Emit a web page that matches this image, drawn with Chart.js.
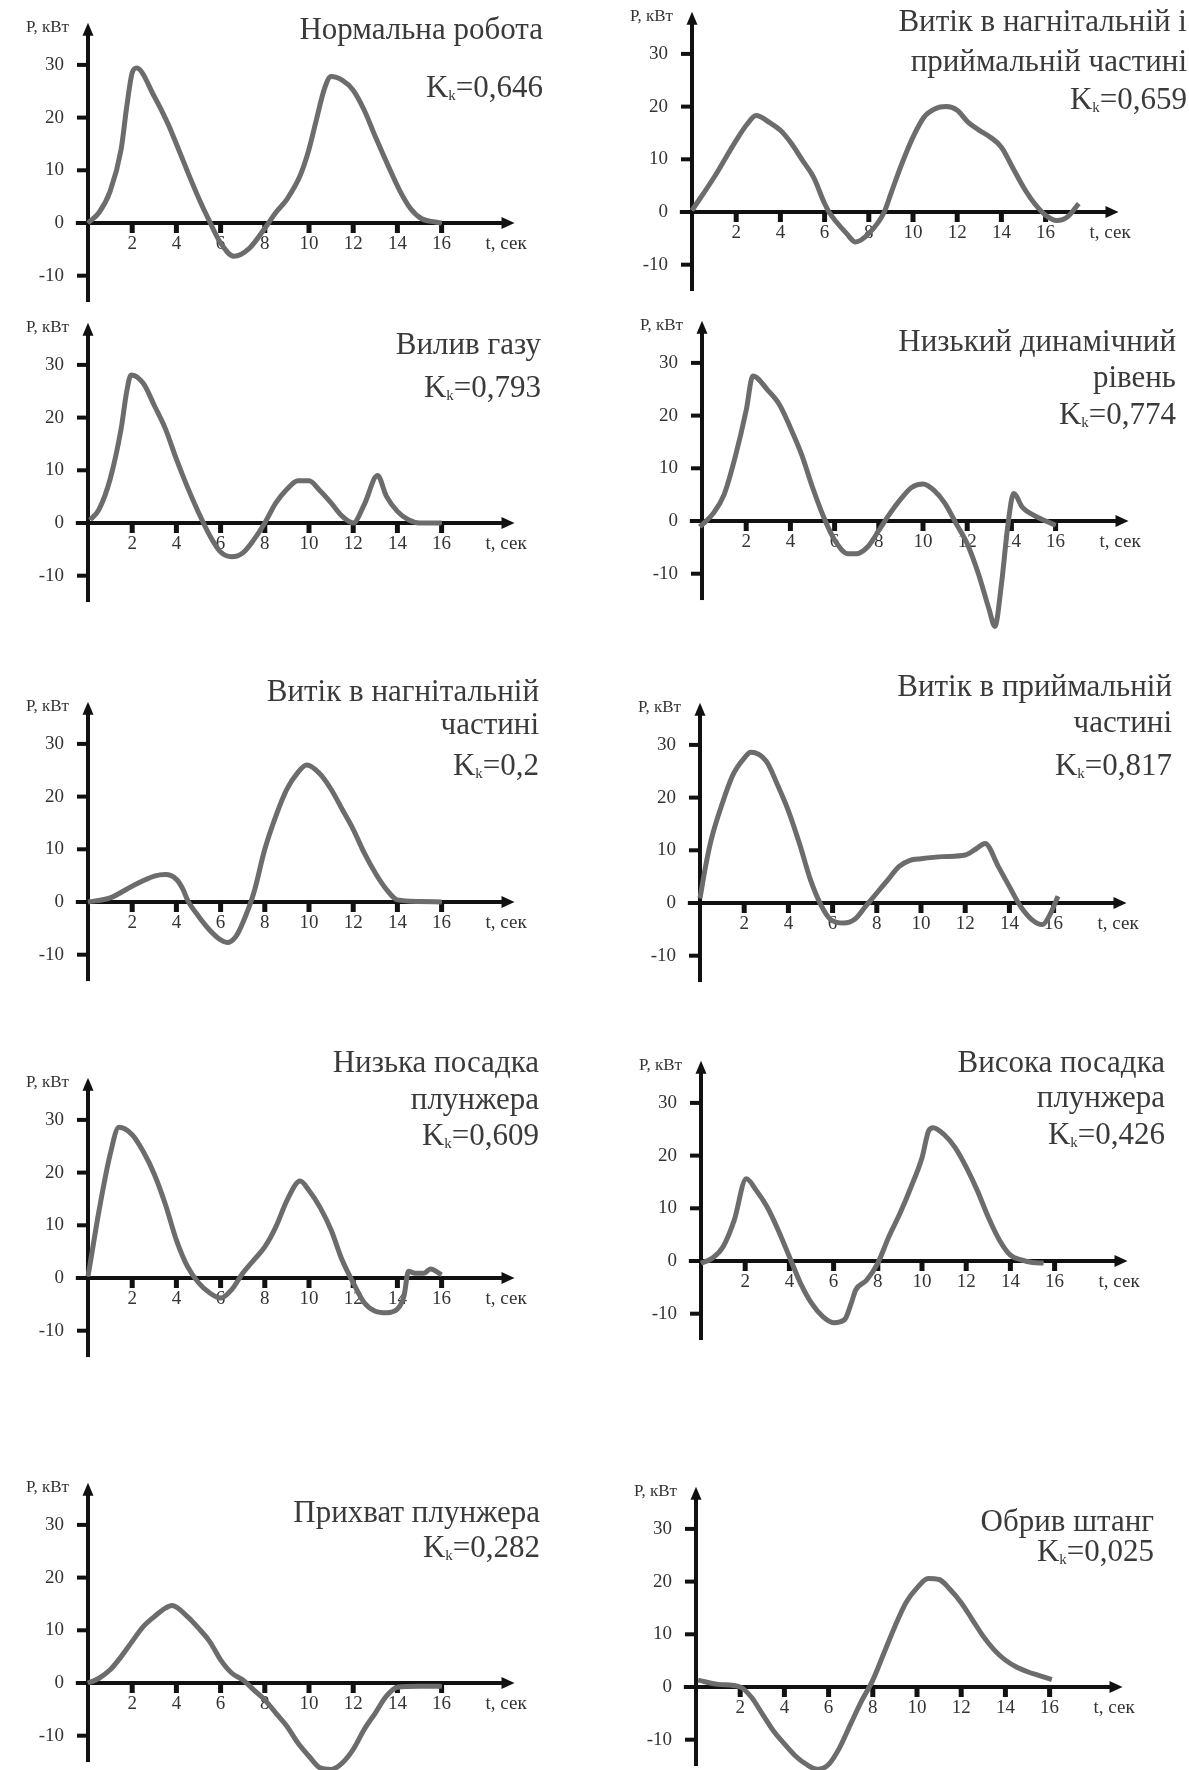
<!DOCTYPE html>
<html lang="uk">
<head>
<meta charset="utf-8">
<title>Ватметрограми</title>
<script src="https://cdn.jsdelivr.net/npm/chart.js@4.4.1/dist/chart.umd.min.js"></script>
<style>
  html, body { margin: 0; padding: 0; background: #fff; }
  body { position: relative; width: 1189px; height: 1770px; overflow: hidden;
         font-family: "Liberation Serif", "DejaVu Serif", serif; }
  canvas { position: absolute; }
  .ttl { position: absolute; color: #3a3a3a; font-size: 31px; line-height: 31px;
         white-space: nowrap; text-align: right; z-index: 2; }
  .ttl sub { font-size: 15px; vertical-align: -3px; }
</style>
</head>
<body>
<script>
// tick values shared by every panel
const xTicks = [2, 4, 6, 8, 10, 12, 14, 16];
const yTicks = [-10, 0, 10, 20, 30];

// t, сек / P, кВт
const tNormal = [0, 0.5, 1, 1.5, 1.75, 2, 2.2, 3, 3.6, 4, 4.5, 5, 5.5, 6, 6.6, 7.3, 8, 8.5, 9, 9.6, 10, 10.3, 10.7, 11, 11.5, 12, 12.5, 13, 13.6, 14.1, 14.6, 15.1, 15.7, 16];
const pNormal = [0, 2, 6, 14, 22, 28.5, 29.4, 24, 19, 15, 9.8, 4.8, 0.3, -3.8, -6.3, -4.8, -1, 2, 4.5, 9, 14, 19, 25.5, 27.8, 27.1, 25.2, 21.4, 16.4, 10.7, 6.2, 2.7, 0.8, 0.2, 0];

const tLeakBoth = [0, 1, 2, 2.5, 2.9, 3.5, 4, 4.5, 5, 5.5, 6, 6.2, 7, 7.4, 8, 8.7, 9, 9.5, 10, 10.5, 11, 11.5, 12, 12.5, 13, 13.5, 14, 14.5, 15, 15.5, 16, 16.5, 17, 17.5];
const pLeakBoth = [0.3, 6.6, 13.6, 16.7, 18.3, 17, 15.5, 13, 9.8, 6.6, 1.6, 0, -4.1, -5.7, -4.1, 0, 3.5, 9.2, 14.2, 18, 19.6, 20, 19.3, 17, 15.5, 14.2, 12.3, 8.5, 4.7, 1.6, -0.6, -1.6, -0.9, 1.6];

const tGas = [0.1, 0.5, 1, 1.5, 1.75, 1.95, 2.5, 3, 3.5, 4, 4.5, 5, 5.5, 6, 6.5, 7, 7.5, 8, 8.5, 9, 9.5, 10, 10.5, 11, 11.5, 12, 12.5, 13.1, 13.5, 14, 14.5, 15, 16];
const pGas = [0.6, 2.6, 8.3, 17.9, 24.9, 28.1, 26.5, 22.3, 17.9, 12.1, 6.8, 2, -2.3, -5.5, -6.4, -5.7, -3.2, 0, 3.8, 6.4, 8, 8, 6.1, 3.8, 1.3, 0, 3.5, 9, 5.1, 2.2, 0.6, 0, 0];

const tLowLevel = [-0.1, 0.5, 1, 1.5, 2, 2.3, 3, 3.5, 4, 4.5, 5, 5.5, 6, 6.6, 7, 7.5, 8, 8.5, 9, 9.5, 10, 10.5, 11, 11.5, 12, 12.5, 13, 13.25, 13.55, 13.85, 14.1, 14.5, 15, 15.5, 16];
const pLowLevel = [-1.1, 1.4, 5, 12.1, 21, 27.5, 24.7, 22.1, 17.7, 12.7, 6.4, 0.8, -3.6, -6.2, -6.2, -4.9, -1.8, 1.4, 4.2, 6.4, 7, 5.8, 3.3, -0.5, -4.3, -9.9, -16.9, -20, -12, -0.5, 5.2, 2.6, 1.1, 0.1, -0.8];

const tLeakOut = [0, 1, 2, 3, 3.5, 4, 4.3, 4.5, 5, 5.5, 6, 6.3, 6.7, 7, 7.5, 8, 8.5, 9, 9.5, 9.9, 10.5, 11, 11.5, 12, 12.5, 13, 13.5, 14, 15, 16];
const pLeakOut = [0, 0.8, 3, 4.9, 5.2, 4.3, 2.4, 0.4, -2.7, -5.3, -7.2, -7.7, -6.5, -4, 1.7, 10, 16.3, 21.4, 24.6, 26, 24.3, 21.4, 17.6, 13.8, 9.3, 5.5, 2.4, 0.4, 0.1, 0];

const tLeakIn = [0, 0.25, 0.5, 1, 1.5, 2, 2.3, 3, 3.5, 4, 4.5, 5, 5.5, 5.9, 6.5, 7, 7.5, 8, 8.5, 9, 9.5, 10, 11, 12, 12.5, 12.9, 13.5, 14, 14.5, 15, 15.5, 15.8, 16.2];
const pLeakIn = [0.9, 6.9, 11.9, 18.8, 24.4, 27.5, 28.6, 26.9, 22.5, 17.5, 11.3, 4.4, -0.6, -3.1, -3.8, -3.1, -0.6, 1.9, 4.4, 6.9, 8.1, 8.4, 8.8, 9.1, 10.3, 11.3, 6.9, 3.1, -0.6, -3.1, -4.1, -2.5, 1.3];

const tLowSeat = [0, 0.25, 0.5, 1, 1.4, 2, 2.5, 3, 3.5, 4, 4.5, 5, 5.5, 6, 6.5, 7, 7.5, 8, 8.5, 9, 9.6, 10, 10.5, 11, 11.5, 12, 12.5, 13, 13.5, 14, 14.3, 14.5, 14.8, 15.2, 15.5, 16];
const pLowSeat = [0.3, 6.6, 12.8, 23.4, 28.6, 27.2, 24, 19.7, 14, 7.2, 2.2, -0.9, -2.8, -3.8, -2.2, 0.9, 3.4, 5.9, 9.7, 14.7, 18.4, 16.6, 13.4, 9.1, 3.4, -0.9, -4.7, -6.3, -6.6, -5.9, -3.4, 1.3, 0.9, 0.9, 1.7, 0.6];

const tHighSeat = [0, 0.5, 1, 1.5, 2.05, 2.5, 3, 3.5, 4, 4.5, 5, 5.5, 6, 6.5, 6.8, 7, 7.5, 8, 8.5, 9, 9.5, 10, 10.3, 10.5, 11, 11.5, 12, 12.5, 13, 13.5, 14, 14.5, 15, 15.5];
const pHighSeat = [-0.4, 0.5, 2.7, 7.7, 15.6, 13.4, 10.2, 5.8, 0.8, -4.2, -8, -10.5, -11.7, -11.1, -8, -5.5, -3.6, -0.4, 4.6, 9, 14, 19.6, 24.7, 25.3, 24, 21.5, 17.8, 13.4, 8.3, 4, 1.1, 0.2, -0.3, -0.4];

const tStuck = [0, 0.5, 1, 1.5, 2, 2.5, 3, 3.5, 3.8, 4.5, 5, 5.5, 6, 6.5, 7, 7.5, 8, 8.5, 9, 9.5, 10, 10.5, 11, 11.5, 12, 12.5, 13, 13.5, 14, 15, 16];
const pStuck = [0, 0.9, 2.5, 5, 7.9, 10.7, 12.6, 14.2, 14.7, 12.6, 10.4, 7.9, 4.4, 1.9, 0.6, -1.3, -3.2, -5.7, -8.2, -11.4, -13.9, -16.1, -16.4, -15.2, -12.6, -8.8, -5.7, -2.5, -0.8, -0.6, -0.6];

const tBreak = [0.1, 1, 2, 2.5, 3, 3.5, 4, 4.5, 5, 5.5, 6, 6.5, 7, 7.5, 8, 8.5, 9, 9.5, 10, 10.5, 11, 11.5, 12, 12.5, 13, 13.5, 14, 14.5, 15, 15.5, 16.1];
const pBreak = [1.3, 0.5, 0, -1.9, -5.1, -8.3, -10.8, -13.1, -14.7, -15.6, -14.7, -11.5, -7, -2.6, 1.3, 6.4, 11.5, 16, 18.8, 20.6, 20.4, 18.5, 16, 12.8, 9.6, 7, 5.1, 3.8, 2.9, 2.2, 1.4];

const titles = [
    ['Нормальна робота'],
    ['Витік в нагнітальній і', 'приймальній частині'],
    ['Вилив газу'],
    ['Низький динамічний', 'рівень'],
    ['Витік в нагнітальній', 'частині'],
    ['Витік в приймальній', 'частині'],
    ['Низька посадка', 'плунжера'],
    ['Висока посадка', 'плунжера'],
    ['Прихват плунжера'],
    ['Обрив штанг']
];
const kkValues = ['0,646', '0,659', '0,793', '0,774', '0,2', '0,817', '0,609', '0,426', '0,282', '0,025'];

const seriesT = [tNormal, tLeakBoth, tGas, tLowLevel, tLeakOut, tLeakIn, tLowSeat, tHighSeat, tStuck, tBreak];
const seriesP = [pNormal, pLeakBoth, pGas, pLowLevel, pLeakOut, pLeakIn, pLowSeat, pHighSeat, pStuck, pBreak];

// where each panel sits on the page: origin of the axes, right edge and rows of its caption
const panels = [
    { ox: 88,  oy: 223,  right: 543,  lines: [30],         kkY: 88 },
    { ox: 692, oy: 212,  right: 1187, lines: [22, 62],     kkY: 100 },
    { ox: 88,  oy: 523,  right: 541,  lines: [345],        kkY: 388 },
    { ox: 702, oy: 521,  right: 1176, lines: [342, 378],   kkY: 415 },
    { ox: 88,  oy: 902,  right: 539,  lines: [692, 725],   kkY: 766 },
    { ox: 700, oy: 903,  right: 1172, lines: [687, 723],   kkY: 766 },
    { ox: 88,  oy: 1278, right: 539,  lines: [1063, 1100], kkY: 1136 },
    { ox: 701, oy: 1261, right: 1165, lines: [1063, 1098], kkY: 1135 },
    { ox: 88,  oy: 1683, right: 540,  lines: [1513],       kkY: 1548 },
    { ox: 696, oy: 1687, right: 1154, lines: [1522],       kkY: 1552 }
];

const SX = 22.1;   // px per second
const SY = 5.27;   // px per kW
const PAD_L = 88, PAD_T = 225, W = 560, H = 345;

// axes with arrows, tick dashes and labels
const axesPlugin = {
    id: 'arrowAxes',
    beforeDatasetsDraw(chart) {
        const { ctx, scales: { x, y } } = chart;
        const x0 = x.getPixelForValue(0);
        const y0 = y.getPixelForValue(0);
        const xa = x.getPixelForValue(-0.55);
        const xb = x.getPixelForValue(19.3);
        const ya = y.getPixelForValue(-15);
        const yb = y.getPixelForValue(38);
        ctx.save();
        ctx.fillStyle = '#111';
        ctx.fillRect(xa, y0 - 2, xb - 10 - xa, 4);
        ctx.beginPath();
        ctx.moveTo(xb, y0);
        ctx.lineTo(xb - 13, y0 - 6);
        ctx.lineTo(xb - 13, y0 + 6);
        ctx.closePath();
        ctx.fill();

        ctx.fillRect(x0 - 2, yb + 10, 4, ya - yb - 10);
        ctx.beginPath();
        ctx.moveTo(x0, yb);
        ctx.lineTo(x0 - 5.5, yb + 13);
        ctx.lineTo(x0 + 5.5, yb + 13);
        ctx.closePath();
        ctx.fill();

        ctx.font = '19px "Liberation Serif", serif';
        ctx.textBaseline = 'middle';
        ctx.textAlign = 'center';
        xTicks.forEach(v => {
            const px = x.getPixelForValue(v);
            ctx.fillStyle = '#111';
            ctx.fillRect(px - 2.5, y0, 5, 10);
            ctx.fillStyle = '#333';
            ctx.fillText(String(v), px, y0 + 21);
        });
        ctx.textAlign = 'right';
        yTicks.forEach(v => {
            const py = y.getPixelForValue(v);
            ctx.fillStyle = '#111';
            ctx.fillRect(x0 - 11, py - 2, 11, 4);
            ctx.fillStyle = '#333';
            ctx.fillText(String(v), x0 - 24, py);
        });
        ctx.font = '17px "Liberation Serif", serif';
        ctx.fillText('P, кВт', x0 - 19, yb + 5);
        ctx.textAlign = 'left';
        ctx.font = '19px "Liberation Serif", serif';
        ctx.fillText('t, сек', xb - 29, y0 + 21);
        ctx.restore();
    }
};

panels.forEach((p, i) => {
    const c = document.createElement('canvas');
    c.width = W;
    c.height = H;
    c.style.left = (p.ox - PAD_L) + 'px';
    c.style.top = (p.oy - PAD_T) + 'px';
    document.body.appendChild(c);

    const pts = seriesT[i].map((t, j) => ({ x: t, y: seriesP[i][j] }));
    new Chart(c, {
        type: 'line',
        data: {
            datasets: [
                { data: pts, borderColor: '#6c6c6c', borderWidth: 5, pointRadius: 0,
                  cubicInterpolationMode: 'monotone', fill: false },
                { data: pts, borderColor: '#c6c6c6', borderWidth: 2.2, pointRadius: 0,
                  cubicInterpolationMode: 'monotone', fill: false }
            ]
        },
        options: {
            responsive: false,
            animation: false,
            events: [],
            layout: { padding: 0 },
            plugins: { legend: { display: false }, tooltip: { enabled: false } },
            scales: {
                x: { type: 'linear', display: false, min: -PAD_L / SX, max: (W - PAD_L) / SX },
                y: { type: 'linear', display: false, min: -(H - PAD_T) / SY, max: PAD_T / SY }
            }
        },
        plugins: [axesPlugin]
    });

    // caption and Kk
    titles[i].forEach((line, k) => {
        const d = document.createElement('div');
        d.className = 'ttl';
        d.textContent = line;
        d.style.right = (1189 - p.right) + 'px';
        d.style.top = (p.lines[k] - 17) + 'px';
        document.body.appendChild(d);
    });
    const kd = document.createElement('div');
    kd.className = 'ttl';
    kd.innerHTML = 'K<sub>k</sub>=' + kkValues[i];
    kd.style.right = (1189 - p.right) + 'px';
    kd.style.top = (p.kkY - 17) + 'px';
    document.body.appendChild(kd);
});
</script>
</body>
</html>
